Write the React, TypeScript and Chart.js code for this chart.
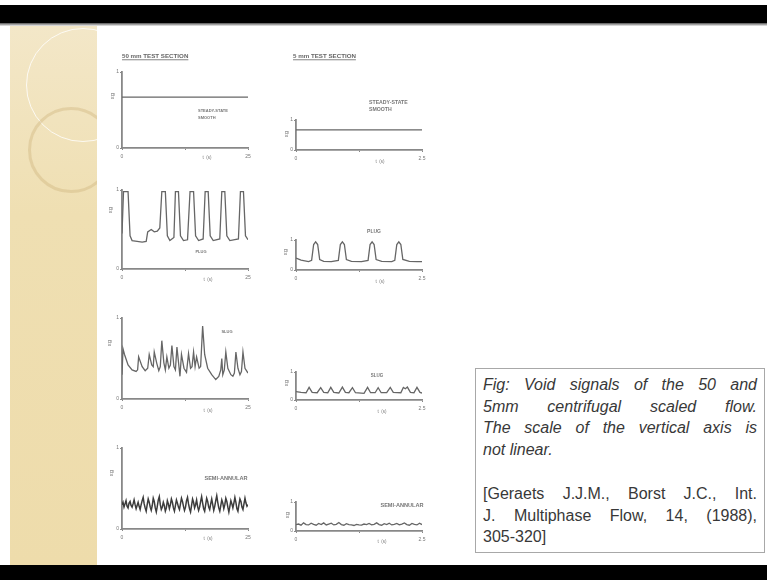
import React, { useEffect, useRef } from 'react';
import { Chart, registerables } from 'chart.js';

Chart.register(...registerables);

// ---------------- data ----------------
const steady50T = [0, 25];
const steady50V = [0.67, 0.67];
const steady5T = [0, 2.5];
const steady5V = [0.67, 0.67];

const plug50T = [0, 0.3, 1.2, 1.6, 2.0, 3.0, 4.0, 4.8, 5.1, 5.8, 6.4, 7.0, 7.5, 7.9, 8.6, 9.0, 9.5, 10.3, 10.6, 11.2, 11.6, 12.2, 13.0, 13.5, 14.2, 14.6, 15.2, 16.1, 16.5, 17.1, 17.5, 18.1, 19.4, 19.8, 20.4, 20.8, 21.4, 23.1, 23.5, 24.1, 24.5, 25];
const plug50V = [0.45, 0.98, 0.98, 0.42, 0.36, 0.35, 0.34, 0.35, 0.47, 0.5, 0.47, 0.48, 0.52, 0.98, 0.98, 0.42, 0.36, 0.4, 0.98, 0.98, 0.42, 0.36, 0.37, 0.98, 0.98, 0.42, 0.36, 0.38, 0.98, 0.98, 0.42, 0.36, 0.38, 0.98, 0.98, 0.42, 0.36, 0.38, 0.98, 0.98, 0.42, 0.37];

const plug5T = [0, 0.1, 0.25, 0.31, 0.35, 0.39, 0.43, 0.47, 0.55, 0.7, 0.84, 0.88, 0.92, 0.96, 1.0, 1.1, 1.3, 1.43, 1.47, 1.51, 1.55, 1.59, 1.7, 1.9, 1.96, 2.0, 2.04, 2.08, 2.12, 2.25, 2.4, 2.5];
const plug5V = [0.4, 0.33, 0.28, 0.32, 0.85, 0.94, 0.85, 0.35, 0.29, 0.28, 0.32, 0.85, 0.94, 0.85, 0.35, 0.29, 0.28, 0.32, 0.85, 0.94, 0.85, 0.35, 0.29, 0.28, 0.32, 0.85, 0.94, 0.85, 0.35, 0.29, 0.28, 0.28];

const slug50T = [0, 0.2, 0.5, 1.2, 2.0, 2.8, 3.1, 3.3, 4.0, 4.6, 5.1, 5.4, 5.9, 6.2, 6.4, 6.9, 7.3, 7.6, 7.9, 8.3, 8.6, 8.9, 9.3, 9.6, 9.9, 10.3, 10.6, 10.9, 11.3, 11.5, 11.8, 12.3, 12.8, 13.2, 13.6, 13.9, 14.2, 14.5, 14.8, 15.3, 15.6, 16.0, 16.4, 17.0, 17.8, 18.6, 19.2, 19.6, 19.8, 20.0, 20.3, 20.6, 21.0, 21.6, 22.0, 22.3, 22.6, 23.0, 23.4, 23.7, 24.0, 24.4, 25];
const slug50V = [0.3, 0.62, 0.55, 0.42, 0.36, 0.34, 0.36, 0.52, 0.4, 0.35, 0.38, 0.55, 0.42, 0.4, 0.58, 0.44, 0.35, 0.4, 0.72, 0.45, 0.36, 0.52, 0.38, 0.42, 0.66, 0.4, 0.36, 0.64, 0.4, 0.28, 0.55, 0.38, 0.33, 0.56, 0.38, 0.4, 0.58, 0.4, 0.52, 0.38, 0.4, 0.9, 0.55, 0.38, 0.3, 0.24, 0.28, 0.36, 0.5, 0.3, 0.36, 0.58, 0.38, 0.3, 0.28, 0.32, 0.58, 0.38, 0.3, 0.34, 0.58, 0.38, 0.32];

const slug5T = [0, 0.1, 0.2, 0.26, 0.32, 0.42, 0.49, 0.55, 0.63, 0.69, 0.75, 0.85, 0.92, 0.98, 1.05, 1.12, 1.18, 1.35, 1.42, 1.48, 1.57, 1.63, 1.69, 1.8, 1.87, 1.93, 2.08, 2.13, 2.17, 2.21, 2.27, 2.34, 2.4, 2.46, 2.5];
const slug5V = [0.3, 0.27, 0.26, 0.45, 0.27, 0.26, 0.44, 0.27, 0.26, 0.45, 0.27, 0.25, 0.46, 0.27, 0.26, 0.44, 0.26, 0.24, 0.45, 0.26, 0.26, 0.44, 0.26, 0.26, 0.45, 0.27, 0.26, 0.45, 0.4, 0.46, 0.27, 0.26, 0.45, 0.27, 0.25];

const semi50Dt = 0.2;
const semi50V = [
  0.30, 0.33, 0.27, 0.31, 0.35, 0.28, 0.26, 0.32, 0.34, 0.29,
  0.27, 0.31, 0.36, 0.30, 0.25, 0.29, 0.33, 0.28, 0.24, 0.30,
  0.35, 0.39, 0.31, 0.26, 0.22, 0.30, 0.37, 0.33, 0.27, 0.23,
  0.29, 0.38, 0.34, 0.26, 0.21, 0.28, 0.36, 0.40, 0.30, 0.24,
  0.27, 0.33, 0.29, 0.22, 0.26, 0.35, 0.31, 0.25, 0.30, 0.37,
  0.33, 0.26, 0.22, 0.29, 0.36, 0.32, 0.27, 0.24, 0.31, 0.38,
  0.34, 0.28, 0.23, 0.27, 0.35, 0.39, 0.31, 0.25, 0.21, 0.29,
  0.37, 0.33, 0.26, 0.30, 0.36, 0.28, 0.23, 0.27, 0.34, 0.40,
  0.32, 0.25, 0.22, 0.30, 0.38, 0.34, 0.27, 0.24, 0.31, 0.37,
  0.30, 0.23, 0.28, 0.35, 0.41, 0.33, 0.26, 0.22, 0.29, 0.36,
  0.32, 0.25, 0.30, 0.38, 0.34, 0.27, 0.21, 0.28, 0.35, 0.31,
  0.26, 0.32, 0.39, 0.33, 0.25, 0.22, 0.30, 0.37, 0.34, 0.27,
  0.24, 0.31, 0.38, 0.32, 0.28, 0.30,
];
const semi50T = semi50V.map((_, i) => i * semi50Dt);

const semi5Dt = 0.05;
const semi5V = [
  0.22, 0.24, 0.20, 0.28, 0.22, 0.21, 0.27, 0.23, 0.20, 0.26,
  0.22, 0.28, 0.21, 0.24, 0.27, 0.21, 0.23, 0.29, 0.22, 0.20,
  0.25, 0.22, 0.21, 0.19, 0.23, 0.21, 0.20, 0.24, 0.22, 0.26,
  0.21, 0.23, 0.28, 0.22, 0.20, 0.25, 0.22, 0.27, 0.21, 0.23,
  0.26, 0.21, 0.24, 0.28, 0.22, 0.20, 0.26, 0.23, 0.21, 0.27, 0.22,
];
const semi5T = semi5V.map((_, i) => i * semi5Dt);

const xTicks50 = [0, 12.5, 25];
const xTickLabels50 = ['0', '', '25'];
const xTicks5 = [0, 1.25, 2.5];
const xTickLabels5 = ['0', '', '2.5'];
const yTicks = [0, 1];
const yTickLabels = ['0', '1'];

const captionLines1 = [
  'Fig: Void signals of the 50 and',
  '5mm centrifugal scaled flow.',
  'The scale of the vertical axis is',
  'not linear.',
];
const captionLines2 = [
  '[Geraets J.J.M., Borst J.C., Int.',
  'J. Multiphase Flow, 14, (1988),',
  '305-320]',
];

// ---------------- styling / layout ----------------
const AXIS = '#888888';
const LINE = '#666666';
const LABEL = '#777777';
const FONT = '"Liberation Sans", Arial, sans-serif';
const YW = 10;
const XH = 10;

type Ann = {
  text: string; dx: number; dy: number; size: number; bold?: boolean;
  align?: CanvasTextAlign; rotate?: boolean; underline?: boolean; color?: string;
};

const annotPlugin = {
  id: 'annot',
  afterDraw(chart: any, _args: any, opts: any) {
    const items: Ann[] = (opts && opts.items) || [];
    const ctx = chart.ctx as CanvasRenderingContext2D;
    const ca = chart.chartArea;
    items.forEach((it) => {
      ctx.save();
      ctx.font = `${it.bold ? 'bold ' : ''}${it.size}px ${FONT}`;
      ctx.fillStyle = it.color || LABEL;
      ctx.textAlign = it.align || 'left';
      ctx.textBaseline = 'middle';
      ctx.translate(ca.left + it.dx, ca.bottom + it.dy);
      if (it.rotate) ctx.rotate(-Math.PI / 2);
      ctx.fillText(it.text, 0, 0);
      if (it.underline) {
        const w = ctx.measureText(it.text).width;
        const x0 = it.align === 'center' ? -w / 2 : it.align === 'right' ? -w : 0;
        ctx.fillRect(x0, it.size * 0.55, w, 0.8);
      }
      ctx.restore();
    });
  },
};

type PanelCfg = {
  canvas: [number, number, number, number];
  area: [number, number, number, number];
  T: number[]; V: number[];
  xt: number[]; xl: string[];
  anns: Ann[];
  color?: string; lw?: number;
};

const panels: PanelCfg[] = [
  {
    canvas: [100, 40, 170, 135], area: [122, 72, 248, 148], T: steady50T, V: steady50V, xt: xTicks50, xl: xTickLabels50,
    anns: [
      { text: '50 mm TEST SECTION', dx: 0, dy: -92, size: 6.2, bold: true, underline: true, color: '#666' },
      { text: 'STEADY-STATE', dx: 76, dy: -37, size: 4, bold: true },
      { text: 'SMOOTH', dx: 76, dy: -30, size: 4, bold: true },
      { text: 't  (s)', dx: 85, dy: 10, size: 4.5, align: 'center' },
      { text: 'εg', dx: -10, dy: -52, size: 6, rotate: true, align: 'center' },
    ],
  },
  {
    canvas: [270, 40, 175, 135], area: [296, 120, 422, 150], T: steady5T, V: steady5V, xt: xTicks5, xl: xTickLabels5,
    anns: [
      { text: '5 mm TEST SECTION', dx: -3, dy: -94, size: 6.2, bold: true, underline: true, color: '#666' },
      { text: 'STEADY-STATE', dx: 73, dy: -47, size: 5.2, bold: true },
      { text: 'SMOOTH', dx: 73, dy: -40, size: 5.2, bold: true },
      { text: 't  (s)', dx: 84, dy: 12, size: 4.5, align: 'center' },
      { text: 'εg', dx: -10, dy: -16, size: 6, rotate: true, align: 'center' },
    ],
  },
  {
    canvas: [100, 175, 170, 125], area: [122, 190, 248, 269], T: plug50T, V: plug50V, xt: xTicks50, xl: xTickLabels50,
    anns: [
      { text: 'PLUG', dx: 79, dy: -17, size: 4, bold: true, align: 'center' },
      { text: 't  (s)', dx: 86, dy: 11, size: 4.5, align: 'center' },
      { text: 'εg', dx: -12, dy: -59, size: 6, rotate: true, align: 'center' },
    ],
  },
  {
    canvas: [270, 175, 175, 125], area: [296, 240, 422, 270], T: plug5T, V: plug5V, xt: xTicks5, xl: xTickLabels5,
    anns: [
      { text: 'PLUG', dx: 78, dy: -38, size: 5, bold: true, align: 'center' },
      { text: 't  (s)', dx: 84, dy: 12, size: 4.5, align: 'center' },
      { text: 'εg', dx: -11, dy: -18, size: 6, rotate: true, align: 'center' },
    ],
  },
  {
    canvas: [100, 300, 170, 130], area: [122, 318, 248, 399], T: slug50T, V: slug50V, xt: xTicks50, xl: xTickLabels50,
    anns: [
      { text: 'SLUG', dx: 105, dy: -67, size: 4, bold: true, align: 'center' },
      { text: 't  (s)', dx: 86, dy: 12, size: 4.5, align: 'center' },
      { text: 'εg', dx: -13, dy: -56, size: 6, rotate: true, align: 'center' },
    ],
  },
  {
    canvas: [270, 300, 175, 130], area: [296, 372, 422, 400], T: slug5T, V: slug5V, xt: xTicks5, xl: xTickLabels5,
    anns: [
      { text: 'SLUG', dx: 81, dy: -24, size: 4.5, bold: true, align: 'center' },
      { text: 't  (s)', dx: 86, dy: 12, size: 4.5, align: 'center' },
      { text: 'εg', dx: -10, dy: -17, size: 6, rotate: true, align: 'center' },
    ],
  },
  {
    canvas: [100, 430, 170, 130], area: [122, 448, 248, 529], T: semi50T, V: semi50V, xt: xTicks50, xl: xTickLabels50,
    color: '#3c3c3c', lw: 1.5,
    anns: [
      { text: 'SEMI-ANNULAR', dx: 104, dy: -51, size: 5.6, bold: true, align: 'center' },
      { text: 't  (s)', dx: 86, dy: 10, size: 4.5, align: 'center' },
      { text: 'εg', dx: -11, dy: -56, size: 6, rotate: true, align: 'center' },
    ],
  },
  {
    canvas: [270, 430, 175, 130], area: [296, 502, 422, 531], T: semi5T, V: semi5V, xt: xTicks5, xl: xTickLabels5,
    anns: [
      { text: 'SEMI-ANNULAR', dx: 106, dy: -26, size: 5.6, bold: true, align: 'center' },
      { text: 't  (s)', dx: 86, dy: 11, size: 4.5, align: 'center' },
      { text: 'εg', dx: -9, dy: -16, size: 6, rotate: true, align: 'center' },
    ],
  },
];

function Panel({ cfg }: { cfg: PanelCfg }) {
  const ref = useRef<HTMLCanvasElement>(null);
  const [cx, cy, cw, ch] = cfg.canvas;
  useEffect(() => {
    const [al, at, ar, ab] = cfg.area;
    const tickFont = { size: 5, family: FONT };
    const chart = new Chart(ref.current as HTMLCanvasElement, {
      type: 'line',
      data: {
        datasets: [
          {
            data: cfg.T.map((t, i) => ({ x: t, y: cfg.V[i] })),
            borderColor: cfg.color || LINE,
            borderWidth: cfg.lw || 1.3,
            pointRadius: 0,
            tension: 0,
            fill: false,
          },
        ],
      },
      options: {
        responsive: false,
        animation: false,
        events: [],
        layout: {
          padding: { left: al - cx - YW, top: at - cy, right: cx + cw - ar, bottom: cy + ch - ab - XH },
        },
        plugins: {
          legend: { display: false },
          tooltip: { enabled: false },
          // @ts-ignore
          annot: { items: cfg.anns },
        },
        scales: {
          x: {
            type: 'linear',
            min: cfg.xt[0],
            max: cfg.xt[cfg.xt.length - 1],
            afterBuildTicks: (s: any) => { s.ticks = cfg.xt.map((v) => ({ value: v })); },
            afterFit: (s: any) => { s.height = XH; },
            ticks: {
              autoSkip: false, maxRotation: 0, padding: 4, color: LABEL, font: tickFont,
              callback: (_v: any, i: number) => cfg.xl[i],
            },
            grid: { display: true, drawOnChartArea: false, drawTicks: true, tickLength: 2, color: AXIS, lineWidth: 1 },
            border: { display: true, color: AXIS, width: 1.8 },
          },
          y: {
            type: 'linear',
            min: yTicks[0],
            max: yTicks[yTicks.length - 1],
            afterBuildTicks: (s: any) => { s.ticks = yTicks.map((v) => ({ value: v })); },
            afterFit: (s: any) => { s.width = YW; },
            ticks: {
              autoSkip: false, padding: 1, color: LABEL, font: tickFont,
              callback: (_v: any, i: number) => yTickLabels[i],
            },
            grid: { display: true, drawOnChartArea: false, drawTicks: true, tickLength: 2, color: AXIS, lineWidth: 1 },
            border: { display: true, color: AXIS, width: 1.8 },
          },
        },
      },
      plugins: [annotPlugin as any],
    });
    return () => chart.destroy();
  }, [cfg]);
  return (
    <canvas
      ref={ref}
      width={cw}
      height={ch}
      style={{ position: 'absolute', left: cx, top: cy, width: cw, height: ch }}
    />
  );
}

const lineStyle = (justify: boolean): React.CSSProperties => ({
  textAlign: 'justify',
  textAlignLast: justify ? 'justify' : 'left',
  whiteSpace: 'nowrap',
  height: 21.5,
  lineHeight: '21.5px',
});

export default function App() {
  return (
    <div
      style={{
        position: 'fixed', left: 0, top: 0, width: 767, height: 580, background: '#ffffff', overflow: 'hidden',
      }}
    >
      {/* top and bottom bars */}
      <div style={{ position: 'absolute', left: 0, top: 5, width: 767, height: 18, background: '#000' }} />
      <div style={{ position: 'absolute', left: 0, top: 23, width: 767, height: 3, background: 'linear-gradient(#555, #eee)' }} />
      <div style={{ position: 'absolute', left: 0, top: 565, width: 767, height: 15, background: '#000' }} />
      {/* beige side strip */}
      <div
        style={{
          position: 'absolute', left: 10, top: 26, width: 87, height: 539, overflow: 'hidden',
          background: 'linear-gradient(180deg, #f3e7c8 0%, #efdfb2 35%, #eedcab 100%)',
        }}
      >
        <div style={{ position: 'absolute', left: 16, top: 2, width: 112, height: 112, borderRadius: '50%', border: '1.5px solid rgba(255,255,255,0.8)' }} />
        <div style={{ position: 'absolute', left: 18, top: 81, width: 80, height: 80, borderRadius: '50%', border: '3px solid rgba(200,172,115,0.35)' }} />
      </div>
      {panels.map((p, i) => (
        <Panel key={i} cfg={p} />
      ))}
      {/* caption box */}
      <div
        style={{
          position: 'absolute', left: 475, top: 368, width: 290, height: 185, boxSizing: 'border-box',
          border: '1.5px solid #a8a8a8', background: '#fff', padding: '5px 7px 0 7px',
          fontFamily: FONT, fontSize: 16, color: '#383838',
        }}
      >
        <div style={{ fontStyle: 'italic' }}>
          {captionLines1.map((l, i) => (
            <div key={i} style={lineStyle(i < captionLines1.length - 1)}>{l}</div>
          ))}
        </div>
        <div style={{ marginTop: 23 }}>
          {captionLines2.map((l, i) => (
            <div key={i} style={lineStyle(i < captionLines2.length - 1)}>{l}</div>
          ))}
        </div>
      </div>
    </div>
  );
}
